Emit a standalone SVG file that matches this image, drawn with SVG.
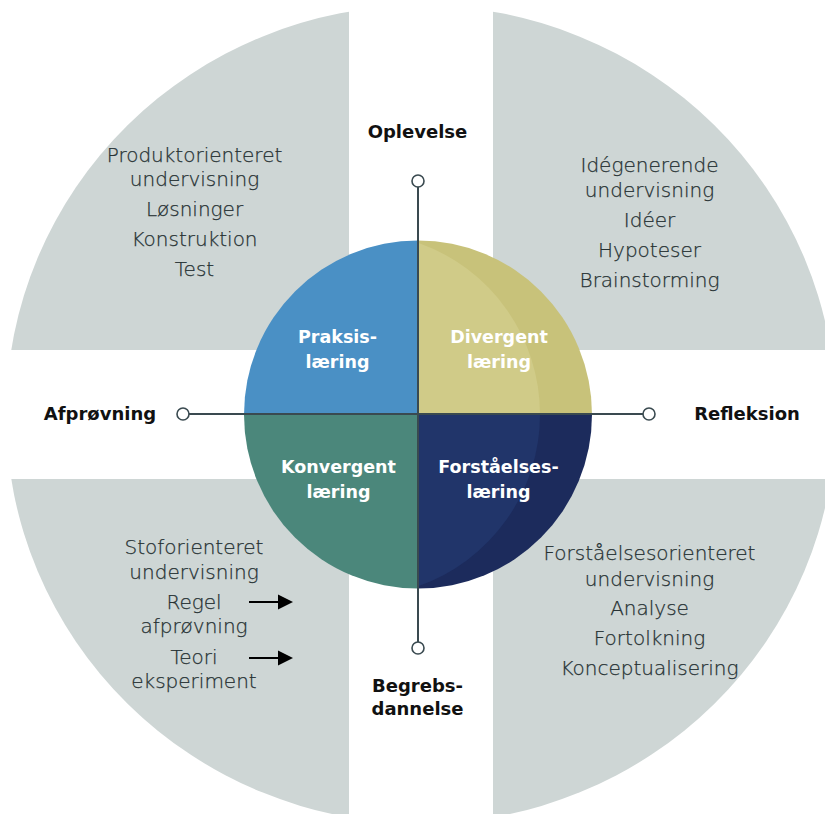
<svg xmlns="http://www.w3.org/2000/svg" width="825" height="814" viewBox="0 0 825 814">
  <style>
    .bg { fill: #ffffff; }
    .quad { fill: #ced6d5; }
    .item { font-family: "DejaVu Sans", "Liberation Sans", sans-serif; font-size: 20px; font-weight: 300; fill: #263133; stroke: #263133; stroke-width: 0.25; text-anchor: middle; }
    .axis-label { font-family: "DejaVu Sans", "Liberation Sans", sans-serif; font-size: 18px; font-weight: bold; fill: #111111; text-anchor: middle; }
    .style-label { font-family: "DejaVu Sans", "Liberation Sans", sans-serif; font-size: 17.5px; font-weight: bold; fill: #ffffff; text-anchor: middle; }
    .axis { stroke: #3a4a50; stroke-width: 2; fill: none; }
    .end { fill: #ffffff; stroke: #3a4a50; stroke-width: 1.6; }
    .pointer { stroke: #000000; stroke-width: 2; fill: none; }
    .pointer-head { fill: #000000; }
  </style>
  <defs>
    <clipPath id="outer">
      <ellipse cx="421" cy="414.5" rx="415" ry="409"/>
    </clipPath>
  </defs>

  <rect class="bg" x="0" y="0" width="825" height="814"/>

  <!-- outer grey quadrants with their teaching forms -->
  <g id="produktorienteret">
    <rect class="quad" x="0" y="0" width="349" height="350" clip-path="url(#outer)"/>
    <text class="item" x="194.5" y="162">Produktorienteret</text>
    <text class="item" x="194.5" y="186">undervisning</text>
    <text class="item" x="194.5" y="216">Løsninger</text>
    <text class="item" x="194.5" y="246">Konstruktion</text>
    <text class="item" x="194.5" y="276">Test</text>
  </g>

  <g id="idegenerende">
    <rect class="quad" x="493" y="0" width="332" height="350" clip-path="url(#outer)"/>
    <text class="item" x="649.5" y="172">Idégenerende</text>
    <text class="item" x="649.5" y="197">undervisning</text>
    <text class="item" x="649.5" y="227">Idéer</text>
    <text class="item" x="649.5" y="257">Hypoteser</text>
    <text class="item" x="649.5" y="287">Brainstorming</text>
  </g>

  <g id="stoforienteret">
    <rect class="quad" x="0" y="479" width="349" height="335" clip-path="url(#outer)"/>
    <text class="item" x="194" y="554">Stoforienteret</text>
    <text class="item" x="194" y="579">undervisning</text>
    <text class="item" x="194" y="609">Regel</text>
    <text class="item" x="194" y="633">afprøvning</text>
    <text class="item" x="194" y="664">Teori</text>
    <text class="item" x="194" y="688">eksperiment</text>
  </g>

  <g id="forstaaelsesorienteret">
    <rect class="quad" x="493" y="479" width="332" height="335" clip-path="url(#outer)"/>
    <text class="item" x="649.5" y="560">Forståelsesorienteret</text>
    <text class="item" x="649.5" y="586">undervisning</text>
    <text class="item" x="649.5" y="615">Analyse</text>
    <text class="item" x="649.5" y="645">Fortolkning</text>
    <text class="item" x="649.5" y="675">Konceptualisering</text>
  </g>

  <!-- central learning-style disc -->
  <g id="praksislaering">
    <path d="M418,414.5 L244,414.5 A174,174 0 0 1 418,240.5 Z" fill="#4a90c5"/>
    <text class="style-label" x="337.5" y="343">Praksis-</text>
    <text class="style-label" x="337.5" y="368">læring</text>
  </g>

  <g id="divergent">
    <path d="M418,414.5 L418,240.5 A174,174 0 0 1 592,414.5 Z" fill="#c8c27a"/>
    <path d="M418,414.5 L418,242.7 A182,182 0 0 1 540,414.5 Z" fill="#d0cb88"/>
    <text class="style-label" x="499" y="343">Divergent</text>
    <text class="style-label" x="499" y="368">læring</text>
  </g>

  <g id="konvergent">
    <path d="M418,414.5 L418,588.5 A174,174 0 0 1 244,414.5 Z" fill="#4b877b"/>
    <text class="style-label" x="338.5" y="473">Konvergent</text>
    <text class="style-label" x="338.5" y="498">læring</text>
  </g>

  <g id="forstaaelseslaering">
    <path d="M418,414.5 L592,414.5 A174,174 0 0 1 418,588.5 Z" fill="#1c2b5c"/>
    <path d="M418,414.5 L540,414.5 A182,182 0 0 1 418,586.3 Z" fill="#21356a"/>
    <text class="style-label" x="498.5" y="473">Forståelses-</text>
    <text class="style-label" x="498.5" y="498">læring</text>
  </g>

  <!-- axes, end points and pointer arrows -->
  <g id="connectors">
    <line class="axis" x1="418" y1="187" x2="418" y2="642"/>
    <line class="axis" x1="189" y1="414" x2="643" y2="414"/>
    <circle class="end" cx="418" cy="181" r="6"/>
    <circle class="end" cx="418" cy="648" r="6"/>
    <circle class="end" cx="183" cy="414" r="6"/>
    <circle class="end" cx="649" cy="414" r="6"/>
    <line class="pointer" x1="249" y1="602" x2="281" y2="602"/>
    <path class="pointer-head" d="M278,594.5 L293,602 L278,609.5 Z"/>
    <line class="pointer" x1="249" y1="658" x2="281" y2="658"/>
    <path class="pointer-head" d="M278,650.5 L293,658 L278,665.5 Z"/>
  </g>

  <!-- axis labels -->
  <g id="oplevelse"><text class="axis-label" x="417.5" y="138">Oplevelse</text></g>
  <g id="afproevning"><text class="axis-label" x="100" y="420">Afprøvning</text></g>
  <g id="refleksion"><text class="axis-label" x="747" y="420">Refleksion</text></g>
  <g id="begrebsdannelse">
    <text class="axis-label" x="417.5" y="692">Begrebs-</text>
    <text class="axis-label" x="417.5" y="715">dannelse</text>
  </g>
</svg>
